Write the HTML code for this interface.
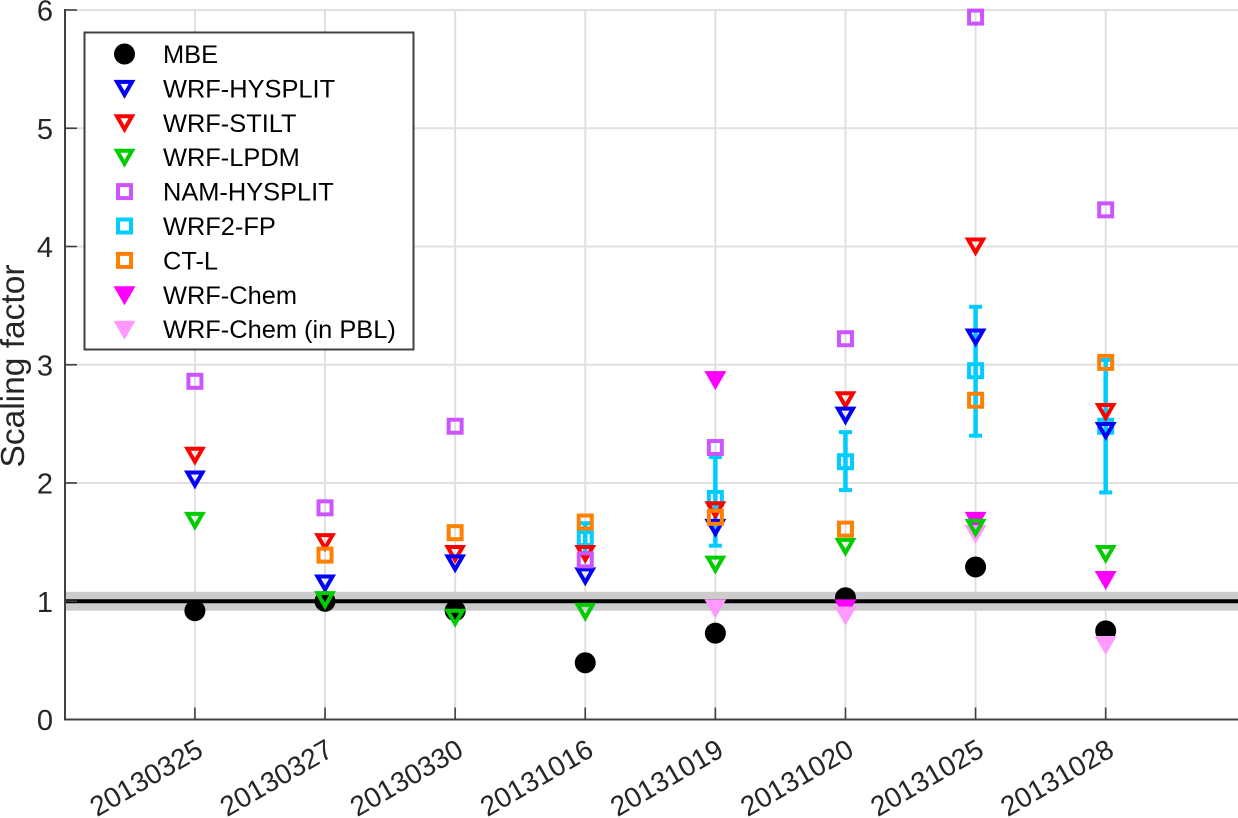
<!DOCTYPE html>
<html><head><meta charset="utf-8"><title>Scaling factor chart</title>
<style>
html,body{margin:0;padding:0;background:#fff}
svg{display:block}
text{font-family:"Liberation Sans",Arial,sans-serif}
</style></head>
<body>
<svg id="chart" xmlns="http://www.w3.org/2000/svg" width="1238" height="818" viewBox="0 0 1238 818"></svg>
<script>
const categories = ["20130325","20130327","20130330","20131016","20131019","20131020","20131025","20131028"];
const yTicks = [0,1,2,3,4,5,6];
const mbe = [0.92,1.0,0.92,0.48,0.73,1.03,1.29,0.75];
const wrfHysplit = [2.03,1.15,1.32,1.21,1.62,2.57,3.23,2.44];
const wrfStilt = [2.23,1.5,1.4,1.4,1.77,2.7,4.0,2.6];
const wrfLpdm = [1.68,1.01,0.86,0.91,1.31,1.46,1.62,1.4];
const namHysplit = [2.86,1.79,2.48,1.35,2.3,3.22,5.94,4.31];
const wrf2Fp = [null,null,null,1.53,1.87,2.18,2.95,2.48];
const wrf2FpLow = [null,null,null,1.4,1.47,1.94,2.4,1.92];
const wrf2FpHigh = [null,null,null,1.66,2.22,2.43,3.49,3.04];
const ctL = [null,1.39,1.58,1.67,1.71,1.61,2.7,3.02];
const wrfChem = [null,null,null,null,2.87,0.94,1.68,1.18];
const wrfChemPbl = [null,null,null,null,0.94,0.88,1.57,0.63];
const refValue = 1;
const refBand = 0.08;
const legendLabels = ["MBE","WRF-HYSPLIT","WRF-STILT","WRF-LPDM","NAM-HYSPLIT","WRF2-FP","CT-L","WRF-Chem","WRF-Chem (in PBL)"];

const NS = "http://www.w3.org/2000/svg";
const svg = document.getElementById("chart");
const L = 65, R = 1236, T = 10, B = 719.5, AX = "#404040";
const xScale = i => L - 0.2 + (R - L) * (i + 1) / (categories.length + 1);
const yScale = v => B - (B - T) * v / 6;

function mk(tag, attrs, parent) {
  const e = document.createElementNS(NS, tag);
  for (const k in attrs) e.setAttribute(k, attrs[k]);
  (parent || svg).appendChild(e);
  return e;
}
function drawMarker(kind, cx, cy, color, parent) {
  let e;
  if (kind === "circle") {
    e = mk("circle", {cx: cx, cy: cy, r: 10.5, fill: color}, parent);
  } else if (kind === "tri" || kind === "triFill") {
    const d = `M${cx-7.5},${cy-7}L${cx+7.5},${cy-7}L${cx},${cy+6}Z`;
    e = mk("path", {d: d, fill: kind === "triFill" ? color : "none", stroke: color, "stroke-width": 4}, parent);
  } else {
    e = mk("rect", {x: cx-6.5, y: cy-6.5, width: 13, height: 13, fill: "none", stroke: color, "stroke-width": 4}, parent);
  }
  return e;
}

/* grid */
const grid = mk("g", {});


yTicks.forEach(v => {
  if (v === 0) return;
  const g = mk("line", {x1: L, x2: 1238, y1: yScale(v), y2: yScale(v), stroke: "#e0e0e0", "stroke-width": 2}, grid);
  
  
});
categories.forEach((c, i) => {
  const g = mk("line", {x1: xScale(i), x2: xScale(i), y1: T, y2: B, stroke: "#e0e0e0", "stroke-width": 2}, grid);
  
  
});

/* reference band and line */
const band = mk("rect", {x: L, width: 1238 - L, y: yScale(refValue + refBand), height: yScale(refValue - refBand) - yScale(refValue + refBand), fill: "#cccccc"});


const refLine = mk("line", {x1: L, x2: 1238, y1: yScale(refValue), y2: yScale(refValue), stroke: "#000", "stroke-width": 4});



/* axes */
const axes = mk("g", {});


const yAxis = mk("line", {x1: L, x2: L, y1: T - 1, y2: B + 1, stroke: AX, "stroke-width": 2}, axes);


const xAxis = mk("line", {x1: L - 1, x2: 1238, y1: B, y2: B, stroke: AX, "stroke-width": 2}, axes);


yTicks.forEach(v => {
  const t = mk("line", {x1: L, x2: L + 12, y1: yScale(v), y2: yScale(v), stroke: AX, "stroke-width": 1.6}, axes);
  
  
  const l = mk("text", {x: 53, y: yScale(v) + 10.5, "text-anchor": "end", "font-size": 29, fill: "#262626"}, axes);
  l.textContent = v;
  
  
});
categories.forEach((c, i) => {
  const x = xScale(i);
  const t = mk("line", {x1: x, x2: x, y1: B, y2: B - 12, stroke: AX, "stroke-width": 1.6}, axes);
  
  
  const l = mk("text", {x: 0, y: 0, "text-anchor": "end", "font-size": 28, fill: "#262626", transform: `translate(${x + 10},${755}) rotate(-30)`}, axes);
  l.textContent = c;
  
  
});
const yTitle = mk("text", {x: 0, y: 0, "text-anchor": "middle", "font-size": 33.5, fill: "#262626", transform: "translate(24,366) rotate(-90)"}, axes);
yTitle.textContent = "Scaling factor";



/* series in paint order */
function drawSeries(name, values, kind, color) {
  const g = mk("g", {});
  
  
  values.forEach((v, i) => {
    if (v === null) return;
    const m = drawMarker(kind, xScale(i), yScale(v), color, g);
    
    
  });
}
function drawErrors(low, high, color) {
  const g = mk("g", {});
  
  
  low.forEach((v, i) => {
    if (v === null) return;
    const x = xScale(i), y0 = yScale(v), y1 = yScale(high[i]);
    const s = mk("line", {x1: x, x2: x, y1: y0, y2: y1, stroke: color, "stroke-width": 4.5}, g);
    
    
    const c0 = mk("line", {x1: x - 6.5, x2: x + 6.5, y1: y0, y2: y0, stroke: color, "stroke-width": 4}, g);
    
    
    const c1 = mk("line", {x1: x - 6.5, x2: x + 6.5, y1: y1, y2: y1, stroke: color, "stroke-width": 4}, g);
    
    
  });
}
const C = {mbe:"#000000", hy:"#0000f5", st:"#ff0000", lp:"#00cc00", nam:"#cc55ff", fp:"#00ccff", ct:"#ff8000", ch:"#ff00ff", pb:"#ff99ff"};
drawSeries("mbe-series", mbe, "circle", C.mbe);
drawSeries("wrf-chem-series", wrfChem, "triFill", C.ch);
drawSeries("wrf-chem-pbl-series", wrfChemPbl, "triFill", C.pb);
drawErrors(wrf2FpLow, wrf2FpHigh, C.fp);
drawSeries("wrf2-fp-series", wrf2Fp, "square", C.fp);
drawSeries("wrf-stilt-series", wrfStilt, "tri", C.st);
drawSeries("wrf-hysplit-series", wrfHysplit, "tri", C.hy);
drawSeries("wrf-lpdm-series", wrfLpdm, "tri", C.lp);
drawSeries("nam-hysplit-series", namHysplit, "square", C.nam);
drawSeries("ct-l-series", ctL, "square", C.ct);

/* legend */
const legend = mk("g", {});


const legendBox = mk("rect", {x: 84.5, y: 32.5, width: 329, height: 317, fill: "#fff", stroke: AX, "stroke-width": 2}, legend);


const legendKinds = ["circle","tri","tri","tri","square","square","square","triFill","triFill"];
const legendColors = [C.mbe,C.hy,C.st,C.lp,C.nam,C.fp,C.ct,C.ch,C.pb];
legendLabels.forEach((label, i) => {
  const y = 54 + i * 34.4;
  const m = drawMarker(legendKinds[i], 124.5, y + (legendKinds[i].startsWith("tri") ? 0.5 : 0), legendColors[i], legend);
  
  
  const t = mk("text", {x: 163, y: y + 9, "font-size": 25.4, fill: "#000"}, legend);
  t.textContent = label;
  
  
});
</script>
</body></html>
